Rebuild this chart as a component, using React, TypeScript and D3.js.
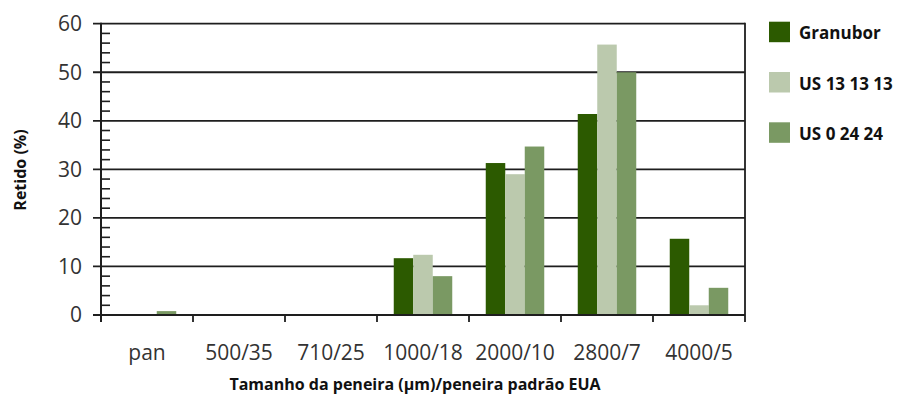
import React from "react";
import * as d3 from "d3";

const categories = ["pan", "500/35", "710/25", "1000/18", "2000/10", "2800/7", "4000/5"];
const seriesNames = ["Granubor", "US 13 13 13", "US 0 24 24"];
const granubor = [0, 0, 0, 11.7, 31.3, 41.4, 15.7];
const us131313 = [0, 0, 0, 12.4, 29.0, 55.7, 2.0];
const us02424 = [0.8, 0.2, 0.2, 8.0, 34.7, 50.0, 5.6];
const seriesValues = [granubor, us131313, us02424];
const colors = ["#2c5a00", "#bbc9ad", "#7a9963"];
const yTicks = [0, 10, 20, 30, 40, 50, 60];

export default function App() {
  const W = 909, H = 395;
  const left = 101, right = 745, top = 23.7, bottom = 315;
  const x = d3.scaleBand<string>().domain(categories).range([left, right]).padding(0);
  const groupW = 58.5;
  const x1 = d3.scaleBand<string>().domain(seriesNames).range([0, groupW]).padding(0);
  const y = d3.scaleLinear().domain([0, 60]).range([bottom, top]);
  const minor = d3.range(0, 60, 2).filter((v) => v % 10 !== 0);
  const step = x.step();
  const font = "'Open Sans', 'DejaVu Sans', sans-serif";

  return (
    <svg width={W} height={H} style={{ position: "absolute", left: 0, top: 0, background: "#fff" }}>
      {/* gridlines */}
      {yTicks.map((t) => (
        <line key={"g" + t} x1={93} x2={right} y1={y(t)} y2={y(t)} stroke="#1e1e1e" strokeWidth={t === 0 ? 2.2 : 1.8} />
      ))}
      {/* minor ticks */}
      {minor.map((t) => (
        <line key={"m" + t} x1={left} x2={left + 9} y1={y(t)} y2={y(t)} stroke="#1e1e1e" strokeWidth={1.6} />
      ))}
      {/* right border */}
      <line x1={right} x2={right} y1={top - 0.9} y2={bottom + 7} stroke="#1e1e1e" strokeWidth={1.8} />
      {/* category boundary ticks */}
      {categories.map((c, i) => (
        <line key={"t" + c} x1={x(c)! + (i === 0 ? 0 : 0)} x2={x(c)!} y1={bottom} y2={bottom + 7} stroke="#1e1e1e" strokeWidth={1.8} />
      ))}
      {/* bars */}
      {categories.map((c, i) => (
        <g key={"b" + c} transform={`translate(${x(c)! + (step - groupW) / 2},0)`}>
          {seriesNames.map((s, j) => {
            const v = seriesValues[j][i];
            if (v <= 0) return null;
            return (
              <rect key={s} x={x1(s)!} width={x1.bandwidth()} y={y(v)} height={y(0) - y(v)} fill={colors[j]} />
            );
          })}
        </g>
      ))}
      {/* redraw baseline over bars */}
      <line x1={93} x2={right} y1={bottom} y2={bottom} stroke="#1e1e1e" strokeWidth={2.2} />
      {/* y axis */}
      <line x1={left} x2={left} y1={top - 0.9} y2={bottom + 7} stroke="#1e1e1e" strokeWidth={2} />
      {/* y tick labels */}
      {yTicks.map((t) => (
        <text key={"yl" + t} x={82} y={y(t)} dy="0.35em" textAnchor="end" fontFamily={font} fontSize={21} fill="#333">
          {t}
        </text>
      ))}
      {/* x tick labels */}
      {categories.map((c) => (
        <text key={"xl" + c} x={x(c)! + step / 2} y={360} textAnchor="middle" fontFamily={font} fontSize={21} fill="#333">
          {c}
        </text>
      ))}
      {/* axis titles */}
      <text x={415} y={390} textAnchor="middle" fontFamily={font} fontSize={16} fontWeight="bold" fill="#111">
        Tamanho da peneira (µm)/peneira padrão EUA
      </text>
      <text transform="translate(25.5,170) rotate(-90)" textAnchor="middle" fontFamily={font} fontSize={16} fontWeight="bold" fill="#111">
        Retido (%)
      </text>
      {/* legend */}
      {seriesNames.map((s, j) => (
        <g key={"lg" + s} transform={`translate(769,${21.7 + j * 50.3})`}>
          <rect width={21} height={20.5} fill={colors[j]} />
          <text x={30} y={17.5} fontFamily={font} fontSize={17} fontWeight="bold" fill="#111">
            {s}
          </text>
        </g>
      ))}
    </svg>
  );
}
